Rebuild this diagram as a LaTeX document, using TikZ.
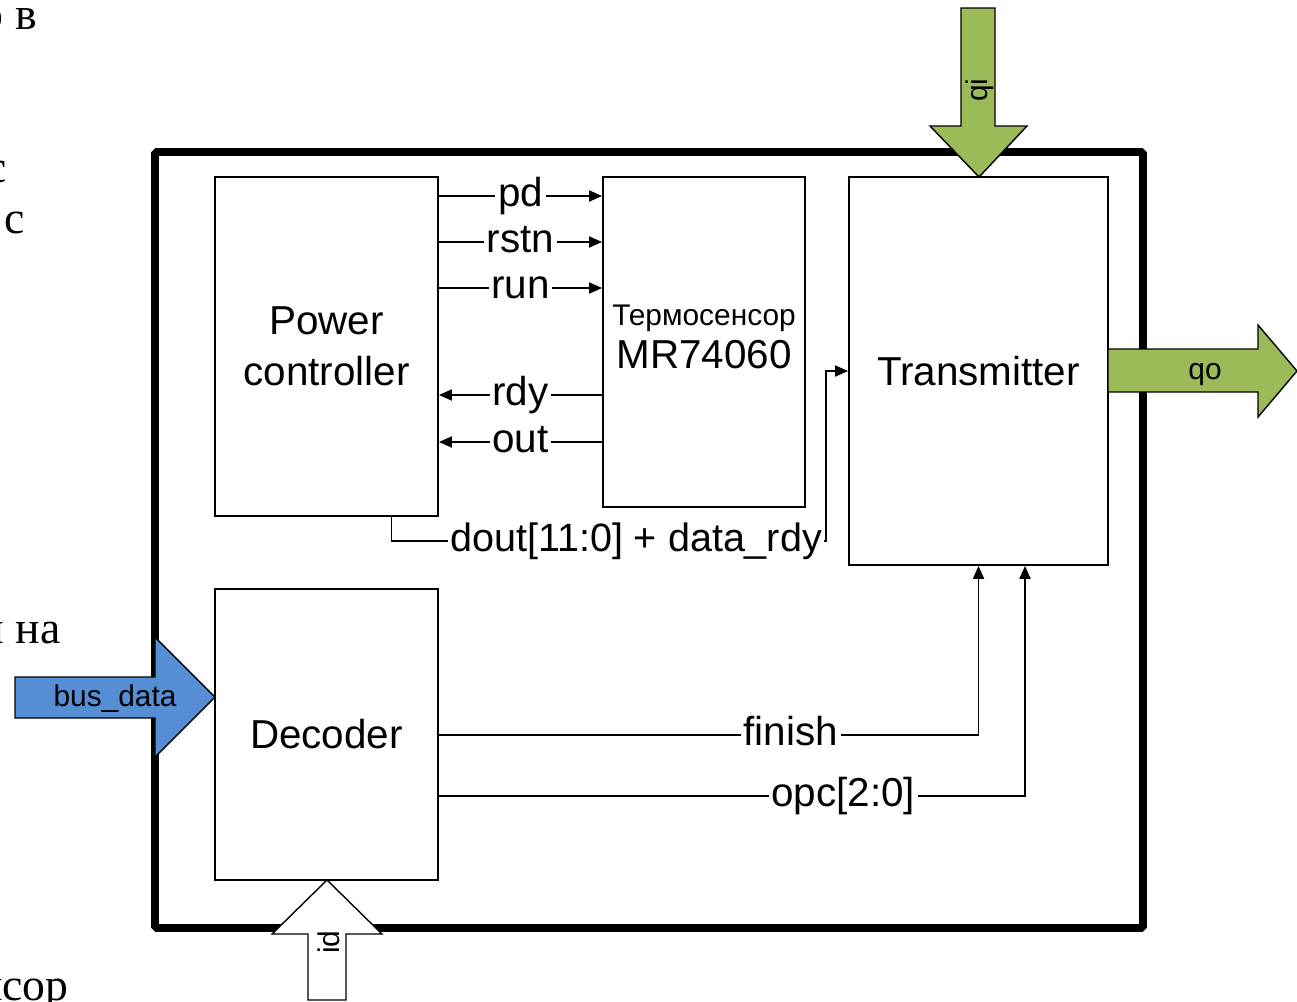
\documentclass[tikz,border=0pt]{standalone}
\usepackage{fontspec}
\setmainfont{Liberation Sans}
\newfontfamily\pagefont{Liberation Serif}
\usepackage{tikz}
\usetikzlibrary{arrows.meta, positioning, calc}
\definecolor{BusGreen}{RGB}{155, 187, 89}
\definecolor{BusBlue}{RGB}{85, 142, 213}

\begin{document}
\begin{tikzpicture}[
  x=0.02cm, y=-0.02cm,
  block/.style={
    rectangle, draw, line width=1.1pt, fill=white,
    align=center, inner sep=0pt,
    font=\fontsize{23pt}{29pt}\selectfont
  },
  lbl/.style={fill=white, inner sep=1.5pt, text height=16pt, text depth=4.6pt,
    font=\fontsize{23pt}{26pt}\selectfont},
  sig/.style={-{Triangle[length=2.6mm, width=2.2mm]}, line width=1.1pt},
  wire/.style={line width=1.1pt},
  bus/.style={draw, line width=0.8pt, line join=miter},
  buslbl/.style={inner sep=0pt, font=\fontsize{17pt}{20pt}\selectfont},
  page/.style={inner sep=0pt, font=\pagefont\fontsize{26pt}{30pt}\selectfont}
]
  \useasboundingbox (0,0) rectangle (1297,1001);

  % page text round the figure
  \node[page, anchor=base east] (p1) at (37,29)   {о в};
  \node[page, anchor=base east] (p2) at (7,182)   {с};
  \node[page, anchor=base east] (p3) at (25,233)  {с};
  \node[page, anchor=base east] (p4) at (61,643)  {ы на};
  \node[page, anchor=base east] (p5) at (69,1000) {нсор};

  % chip frame
  \draw[line width=4.3pt, rounded corners=1pt] (155,152) rectangle (1143,928);

  \node[block, minimum width=4.46cm, minimum height=6.78cm] (pc)  at (326.5,346.5) {Power\\controller};
  \node[block, minimum width=4.04cm, minimum height=6.6cm,
        font=\fontsize{23pt}{24pt}\selectfont] (ts) at (704,342)
    {{\fontsize{17pt}{20pt}\selectfont Термосенсор}\\MR74060\rule[-6pt]{0pt}{6pt}};
  \node[block, minimum width=5.18cm, minimum height=7.76cm] (tx)  at (978.5,371) {Transmitter};
  \node[block, minimum width=4.46cm, minimum height=5.82cm] (dec) at (326.5,734.5) {Decoder};

  \draw[sig] (pc.east |- 0,196) -- node[lbl]{pd}   (ts.west |- 0,196);
  \draw[sig] (pc.east |- 0,242) -- node[lbl]{rstn} (ts.west |- 0,242);
  \draw[sig] (pc.east |- 0,288) -- node[lbl]{run}  (ts.west |- 0,288);
  \draw[sig] (ts.west |- 0,395) -- node[lbl]{rdy}  (pc.east |- 0,395);
  \draw[sig] (ts.west |- 0,442) -- node[lbl]{out}  (pc.east |- 0,442);

  \node[lbl, anchor=west, inner sep=1pt, font=\fontsize{22.5pt}{26pt}\selectfont]
    (dout) at (448,541) {dout[11:0] + data\_rdy};
  \coordinate (dtap) at ($(tx.west)+(-22,0)$);
  \draw[wire] ($(pc.south)+(65,0)$) |- (dout.west);
  \draw[sig] (dout.east) -- (dtap |- dout.east) -- (dtap) -- (tx.west);

  \coordinate (opcin) at ($(tx.south)+(46.5,0)$);
  \draw[sig] (dec.east |- 0,735) -- node[lbl, pos=0.652]{finish} (tx.south |- 0,735) -- (tx.south);
  \draw[sig] (dec.east |- 0,796) -- node[lbl, pos=0.69]{opc[2:0]} (opcin |- 0,796) -- (opcin);

  % port arrows
  \draw[bus, fill=BusGreen] (961,8) -- (995,8) -- (995,126) -- (1027,126)
    -- (979,177) -- (930,126) -- (961,126) -- cycle;
  \node[buslbl, rotate=90] (qi) at (980,90) {qi};

  \draw[bus, fill=BusGreen] (1108,349) -- (1258,349) -- (1258,325) -- (1297,371)
    -- (1258,417) -- (1258,392) -- (1108,392) -- cycle;
  \node[buslbl] (qo) at (1205,375) {qo};

  \draw[bus, fill=BusBlue] (15,677) -- (155,677) -- (155,637) -- (215,697)
    -- (155,757) -- (155,718) -- (15,718) -- cycle;
  \node[buslbl] (busdata) at (115,699) {bus\_data};

  \draw[bus, fill=white] (327,880) -- (382,934) -- (346,934) -- (346,1000)
    -- (308,1000) -- (308,934) -- (272,934) -- cycle;
  \node[buslbl, rotate=90] (id) at (329,942) {id};
\end{tikzpicture}
\end{document}
